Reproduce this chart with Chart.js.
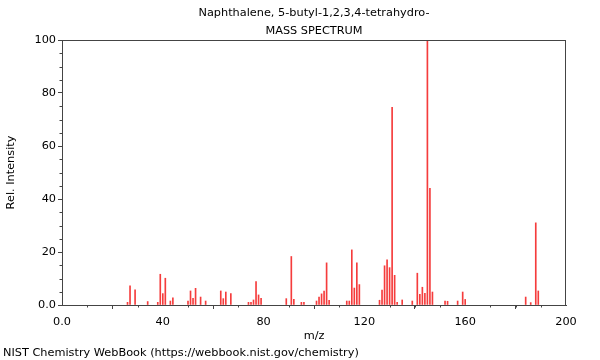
<!DOCTYPE html>
<html>
<head>
<meta charset="utf-8">
<script src="https://cdn.jsdelivr.net/npm/chart.js@4/dist/chart.umd.min.js"></script>
<style>
  html, body { margin: 0; padding: 0; background: #fff; }
  #wrap { position: relative; width: 600px; height: 360px; overflow: hidden; }
  #title { position: absolute; left: 0; top: 4px; width: 628px; text-align: center; font: 11.3px/18px "DejaVu Sans", sans-serif; color: #000; white-space: nowrap; }
  #footer { position: absolute; left: 3px; top: 346px; font: 11.3px/14px "DejaVu Sans", sans-serif; color: #000; white-space: nowrap; }
  canvas { position: absolute; left: 0; top: 0; }
</style>
</head>
<body>
<div id="wrap">
  <canvas id="c" width="600" height="360"></canvas>
  <div id="title"></div>
  <div id="footer"></div>
</div>
<script>
const titleLines = ['Naphthalene, 5-butyl-1,2,3,4-tetrahydro-', 'MASS SPECTRUM'];
const footerText = 'NIST Chemistry WebBook (https://webbook.nist.gov/chemistry)';
const mz = [26, 27, 29, 34, 38, 39, 40, 41, 43, 44, 50, 51, 52, 53, 55, 57, 63, 64, 65, 67,
  74, 75, 76, 77, 78, 79, 89, 91, 92, 95, 96, 101, 102, 103, 104, 105, 106, 113, 114, 115,
  116, 117, 118, 126, 127, 128, 129, 130, 131, 132, 133, 135, 139, 141, 142, 143, 144, 145,
  146, 147, 152, 153, 157, 159, 160, 184, 186, 188, 189];
const intensity = [1.0, 7.2, 5.7, 1.3, 1.0, 11.6, 4.3, 10.1, 1.5, 2.7, 1.5, 5.3, 2.5, 6.3, 3.0, 1.5, 5.3, 2.4, 4.9, 4.3,
  1.0, 1.0, 1.9, 8.8, 3.8, 2.5, 2.4, 18.3, 2.1, 1.0, 1.0, 1.5, 3.0, 4.2, 5.3, 15.9, 1.8, 1.5, 1.5, 20.8,
  6.4, 15.9, 7.7, 1.8, 5.6, 14.8, 17.0, 14.1, 74.6, 11.2, 1.0, 1.9, 1.5, 12.0, 4.0, 6.7, 4.4, 100,
  44.0, 4.9, 1.5, 1.4, 1.5, 4.9, 2.1, 3.0, 0.9, 31.0, 5.3];
const xTicks = [0, 40, 80, 120, 160, 200];
const yTicks = [0, 20, 40, 60, 80, 100];
const xLabel = 'm/z';
const yLabel = 'Rel. Intensity';

document.getElementById('title').innerHTML = titleLines.map(t => '<div>' + t + '</div>').join('');
document.getElementById('footer').textContent = footerText;

const FONT = '"DejaVu Sans", sans-serif';
const AXIS = '#444';

const framePlugin = {
  id: 'frame',
  afterDraw(chart) {
    const { ctx, chartArea: a, scales } = chart;
    ctx.save();
    ctx.strokeStyle = AXIS;
    ctx.lineWidth = 1;
    ctx.beginPath();
    ctx.moveTo(a.left, a.top + 0.5); ctx.lineTo(a.right, a.top + 0.5);
    ctx.moveTo(a.right - 0.5, a.top); ctx.lineTo(a.right - 0.5, a.bottom);
    for (let v = 0; v <= 200; v += 10) {
      if (v % 40 === 0) continue;
      const px = Math.round(scales.x.getPixelForValue(v)) + 0.5;
      ctx.moveTo(px, a.bottom); ctx.lineTo(px, a.bottom + 2.5);
    }
    for (let v = 0; v <= 100; v += 5) {
      if (v % 20 === 0) continue;
      const py = Math.round(scales.y.getPixelForValue(v)) + 0.5;
      ctx.moveTo(a.left, py); ctx.lineTo(a.left - 2.5, py);
    }
    ctx.stroke();
    ctx.restore();
  }
};

new Chart(document.getElementById('c'), {
  type: 'bar',
  data: {
    datasets: [{
      data: mz.map((m, i) => ({ x: m, y: intensity[i] })),
      backgroundColor: 'rgb(245,60,60)',
      borderWidth: 0,
      barThickness: 1,
      grouped: false
    }]
  },
  options: {
    responsive: false,
    animation: false,
    devicePixelRatio: 1,
    layout: { padding: { left: 0, right: 34, top: 40, bottom: 17 } },
    plugins: {
      legend: { display: false },
      tooltip: { enabled: false },
      title: { display: false }
    },
    scales: {
      x: {
        type: 'linear',
        min: 0, max: 200,
        offset: false,
        afterBuildTicks: s => { s.ticks = xTicks.map(v => ({ value: v })); },
        afterFit: s => { s.height = 38; },
        grid: { display: true, drawOnChartArea: false, tickLength: 4, tickColor: AXIS },
        border: { display: true, color: AXIS },
        ticks: {
          color: '#000', padding: 6, maxRotation: 0,
          font: { family: FONT, size: 11.3 },
          callback: v => v === 0 ? '0.0' : String(v)
        },
        title: { display: true, text: xLabel, color: '#000', font: { family: FONT, size: 11.3 }, padding: { top: 0, bottom: 0 } }
      },
      y: {
        min: 0, max: 100,
        afterBuildTicks: s => { s.ticks = yTicks.map(v => ({ value: v })); },
        afterFit: s => { s.width = 62; },
        grid: { display: true, drawOnChartArea: false, tickLength: 4, tickColor: AXIS },
        border: { display: true, color: AXIS },
        ticks: {
          color: '#000', padding: 2,
          font: { family: FONT, size: 11.3 },
          callback: v => v === 0 ? '0.0' : String(v)
        },
        title: { display: true, text: yLabel, color: '#000', font: { family: FONT, size: 11.3 }, padding: { top: 4, bottom: 0 } }
      }
    }
  },
  plugins: [framePlugin]
});
</script>
</body>
</html>
